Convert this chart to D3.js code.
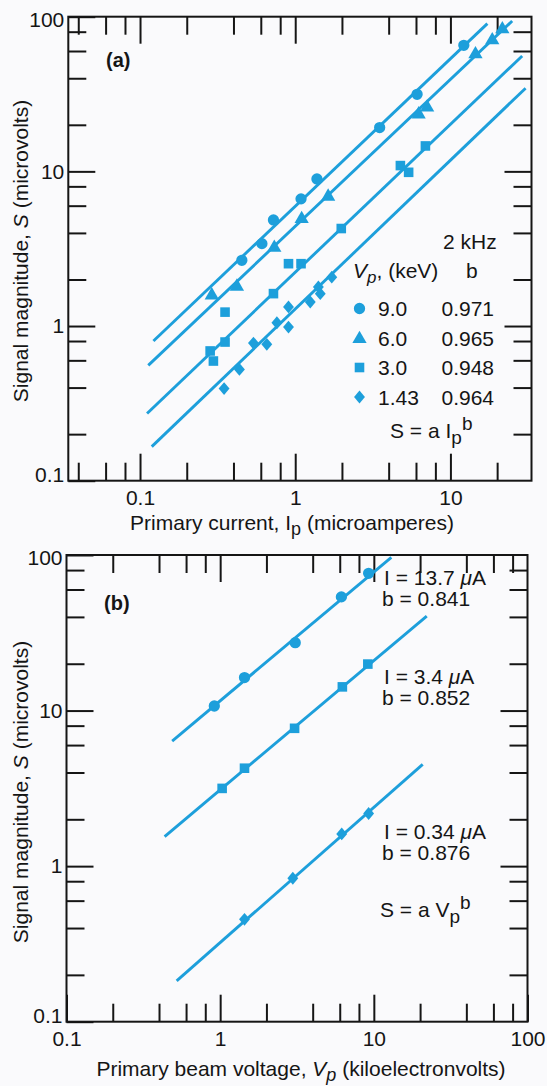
<!DOCTYPE html>
<html>
<head>
<meta charset="utf-8">
<script src="https://cdn.jsdelivr.net/npm/d3@7"></script>
<style>
	body { margin: 0; background: #fafafc; }
	svg { display: block; }
	text { font-family: "Liberation Sans", Arial, sans-serif; fill: #151515; }
</style>
</head>
<body>
<svg id="chart" width="547" height="1086"></svg>
<script>
// ---------- panel (a): S vs primary current, four beam voltages ----------
var legendVp = ["9.0", "6.0", "3.0", "1.43"];
var legendB = ["0.971", "0.965", "0.948", "0.964"];

var ipCircle = [0.453, 0.610, 0.724, 1.09, 1.38, 3.50, 6.10, 12.2];
var sCircle = [2.66, 3.41, 4.85, 6.64, 8.93, 19.2, 31.5, 65.3];
var ipTriangle = [0.290, 0.421, 0.733, 1.10, 1.63, 6.24, 7.08, 14.5, 18.6, 21.6];
var sTriangle = [1.58, 1.80, 3.21, 4.93, 6.87, 23.4, 25.9, 57.2, 70.5, 83.0];
var ipSquare = [0.297, 0.283, 0.353, 0.353, 0.724, 0.905, 1.09, 1.98, 4.76, 5.38, 6.90];
var sSquare = [0.594, 0.690, 0.788, 1.23, 1.62, 2.53, 2.53, 4.27, 10.9, 9.86, 14.6];
var ipDiamond = [0.348, 0.437, 0.538, 0.656, 0.762, 0.905, 0.905, 1.25, 1.41, 1.45, 1.72];
var sDiamond = [0.394, 0.524, 0.776, 0.762, 1.05, 0.985, 1.33, 1.43, 1.79, 1.62, 2.07];

// fitted lines, [x0, y0, x1, y1]
var fitCircleA = [0.122, 0.80, 17.3, 90.2];
var fitTriangleA = [0.113, 0.557, 25.0, 93.8];
var fitSquareA = [0.111, 0.272, 29.0, 55.7];
var fitDiamondA = [0.119, 0.166, 30.5, 34.5];

// ---------- panel (b): S vs beam voltage, three currents ----------
var currentLabels = ["I = 13.7 ", "I = 3.4 ", "I = 0.34 "];
var bLabels = ["b = 0.841", "b = 0.852", "b = 0.876"];

var vpCircle = [0.916, 1.44, 3.08, 6.15, 9.25];
var sCircleB = [10.7, 16.3, 27.3, 53.8, 76.2];
var vpSquare = [1.03, 1.44, 3.05, 6.24, 9.14];
var sSquareB = [3.16, 4.26, 7.69, 14.2, 19.9];
var vpDiamond = [1.44, 2.97, 6.18, 9.25];
var sDiamondB = [0.455, 0.836, 1.61, 2.18];

var fitCircleB = [0.487, 6.37, 13.0, 96.6];
var fitSquareB = [0.435, 1.55, 22.1, 40.5];
var fitDiamondB = [0.521, 0.183, 20.8, 4.51];

// ---------- ticks ----------
var yMajor = [0.1, 1, 10, 100];
var yMajorLabels = ["0.1", "1", "10", "100"];
var yMinor = [0.2, 0.4, 0.6, 0.8, 2, 4, 6, 8, 20, 40, 60, 80];
var xMajorA = [0.1, 1, 10];
var xMajorLabelsA = ["0.1", "1", "10"];
var xMinorA = [0.04, 0.06, 0.08, 0.2, 0.4, 0.6, 0.8, 2, 4, 6, 8, 20];
var xMajorB = [0.1, 1, 10, 100];
var xMajorLabelsB = ["0.1", "1", "10", "100"];
var xMinorB = [0.2, 0.4, 0.6, 0.8, 2, 4, 6, 8, 20, 40, 60, 80];

var blue = "#1d9fdb";
var svg = d3.select("#chart");

svg.append("rect").attr("width", 547).attr("height", 1086).attr("fill", "#fafafc");

function zip(xs, ys) {
	return xs.map(function (v, i) { return [v, ys[i]]; });
}

function drawAxes(x, y, xMajor, xMajorLabels, xMinor) {
	var x0 = x.range()[0], x1 = x.range()[1],
		y0 = y.range()[0], y1 = y.range()[1];
	var g = svg.append("g");

	var sides = [
		{ axis: d3.axisBottom(x), t: "translate(0," + y0 + ")", minor: xMinor, major: xMajor, labels: xMajorLabels, pad: 9 },
		{ axis: d3.axisTop(x), t: "translate(0," + y1 + ")", minor: xMinor, major: xMajor, labels: null, pad: 5 },
		{ axis: d3.axisLeft(y), t: "translate(" + x0 + ",0)", minor: yMinor, major: yMajor, labels: yMajorLabels, pad: 4, left: true },
		{ axis: d3.axisRight(y), t: "translate(" + x1 + ",0)", minor: yMinor, major: yMajor, labels: null, pad: 5 }
	];

	sides.forEach(function (s) {
		g.append("g")
			.attr("transform", s.t)
			.call(s.axis.tickValues(s.minor).tickSizeInner(-18).tickSizeOuter(0).tickFormat(""));
		var labels = s.labels;
		var sc = s.axis.scale();
		var lo = d3.min(sc.range()), hi = d3.max(sc.range());
		var major = s.major.filter(function (v) {
			return labels || (sc(v) > lo + 3 && sc(v) < hi - 3);
		});
		var ax = g.append("g")
			.attr("transform", s.t)
			.call(s.axis.tickValues(major).tickSizeInner(-27).tickSizeOuter(0).tickPadding(s.pad)
				.tickFormat(function (d) { return labels ? labels[s.major.indexOf(d)] : ""; }));
		if (s.left) {
			// corner labels on the value axis sit a little inside the corners
			ax.selectAll(".tick text")
				.attr("dy", function (d) { return d === 0.1 ? "0.05em" : d === 100 ? "0.45em" : "0.32em"; });
		}
	});

	g.selectAll(".domain").remove();
	g.selectAll(".tick line").attr("stroke", "#151515").attr("stroke-width", 2);
	g.selectAll(".tick text").attr("font-size", 21).attr("fill", "#151515")
		.attr("font-family", "Liberation Sans, Arial, sans-serif");

	// frame
	g.append("rect")
		.attr("x", x0).attr("y", y1)
		.attr("width", x1 - x0).attr("height", y0 - y1)
		.attr("fill", "none").attr("stroke", "#151515").attr("stroke-width", 2);
}

function drawFit(x, y, f) {
	svg.append("line")
		.attr("x1", x(f[0])).attr("y1", y(f[1]))
		.attr("x2", x(f[2])).attr("y2", y(f[3]))
		.attr("stroke", blue).attr("stroke-width", 2.9);
}

var symCircle = d3.symbol().type(d3.symbolCircle).size(100);
var symTriangle = d3.symbol().type(d3.symbolTriangle).size(88);
var symSquare = d3.symbol().type(d3.symbolSquare).size(92);
var symDiamond = d3.symbol().type(d3.symbolSquare).size(82);

function markTransform(kind, px, py) {
	var t = "translate(" + px + "," + py + ")";
	if (kind === "diamond") t += " scale(0.85,1) rotate(45)";
	return t;
}

function drawPoints(x, y, pts, sym, kind) {
	svg.append("g").selectAll("path")
		.data(pts)
		.enter().append("path")
		.attr("d", sym)
		.attr("transform", function (d) { return markTransform(kind, x(d[0]), y(d[1])); })
		.attr("fill", blue);
}

// ================= panel (a) =================
var xA = d3.scaleLog().domain([0.0345, 33.3]).range([68.3, 531.5]);
var yA = d3.scaleLog().domain([0.1, 100]).range([480.7, 16.7]);

drawAxes(xA, yA, xMajorA, xMajorLabelsA, xMinorA);

drawFit(xA, yA, fitCircleA);
drawFit(xA, yA, fitTriangleA);
drawFit(xA, yA, fitSquareA);
drawFit(xA, yA, fitDiamondA);

drawPoints(xA, yA, zip(ipCircle, sCircle), symCircle, "circle");
drawPoints(xA, yA, zip(ipTriangle, sTriangle), symTriangle, "triangle");
drawPoints(xA, yA, zip(ipSquare, sSquare), symSquare, "square");
drawPoints(xA, yA, zip(ipDiamond, sDiamond), symDiamond, "diamond");

svg.append("text").attr("x", 106).attr("y", 67).attr("font-size", 20).attr("font-weight", "bold").text("(a)");

// legend
svg.append("text").attr("x", 443).attr("y", 249).attr("font-size", 21).text("2 kHz");
var head = svg.append("text").attr("x", 353).attr("y", 278).attr("font-size", 21);
head.append("tspan").attr("font-style", "italic").text("V");
head.append("tspan").attr("font-style", "italic").attr("font-size", 17).attr("dy", 5).text("p");
head.append("tspan").attr("dy", -5).text(", (keV)");
svg.append("text").attr("x", 466).attr("y", 278).attr("font-size", 21).text("b");

var legSyms = [symCircle, symTriangle, symSquare, symDiamond];
var legKinds = ["circle", "triangle", "square", "diamond"];
legendVp.forEach(function (v, i) {
	var by = 316 + i * 29.5;
	svg.append("path").attr("d", legSyms[i])
		.attr("transform", markTransform(legKinds[i], 359.5, by - 7.5 + (legKinds[i] === "triangle" ? 1 : 0)))
		.attr("fill", blue);
	svg.append("text").attr("x", 378).attr("y", by).attr("font-size", 21).text(v);
	svg.append("text").attr("x", 441.5).attr("y", by).attr("font-size", 21).text(legendB[i]);
});

var eqA = svg.append("text").attr("x", 390).attr("y", 438).attr("font-size", 21);
eqA.append("tspan").text("S = a I");
eqA.append("tspan").attr("font-size", 19).attr("dy", 6).text("p");
eqA.append("tspan").attr("font-size", 19).attr("dy", -14).text("b");

// axis titles
var tA = svg.append("text").attr("x", 292).attr("y", 530).attr("font-size", 21).attr("text-anchor", "middle");
tA.append("tspan").text("Primary current, I");
tA.append("tspan").attr("font-size", 18).attr("dy", 5).text("p");
tA.append("tspan").attr("dy", -5).text(" (microamperes)");

function yTitle(cy) {
	var t = svg.append("text")
		.attr("transform", "translate(28," + cy + ") rotate(-90)")
		.attr("text-anchor", "middle").attr("font-size", 21);
	t.append("tspan").text("Signal magnitude, ");
	t.append("tspan").attr("font-style", "italic").text("S");
	t.append("tspan").text(" (microvolts)");
}
yTitle(251);

// ================= panel (b) =================
var xB = d3.scaleLog().domain([0.1, 100]).range([66.5, 527.5]);
var yB = d3.scaleLog().domain([0.1, 100]).range([1021.7, 555]);

drawAxes(xB, yB, xMajorB, xMajorLabelsB, xMinorB);

drawFit(xB, yB, fitCircleB);
drawFit(xB, yB, fitSquareB);
drawFit(xB, yB, fitDiamondB);

drawPoints(xB, yB, zip(vpCircle, sCircleB), symCircle, "circle");
drawPoints(xB, yB, zip(vpSquare, sSquareB), symSquare, "square");
drawPoints(xB, yB, zip(vpDiamond, sDiamondB), symDiamond, "diamond");

svg.append("text").attr("x", 104).attr("y", 610).attr("font-size", 20).attr("font-weight", "bold").text("(b)");

var labelY = [585, 684, 839];
currentLabels.forEach(function (c, i) {
	var t = svg.append("text").attr("x", 384).attr("y", labelY[i]).attr("font-size", 21);
	t.append("tspan").text(c);
	t.append("tspan").attr("font-style", "italic").text("\u03bc");
	t.append("tspan").text("A");
	svg.append("text").attr("x", 382).attr("y", labelY[i] + 21).attr("font-size", 21).text(bLabels[i]);
});

var eqB = svg.append("text").attr("x", 380).attr("y", 917).attr("font-size", 21);
eqB.append("tspan").text("S = a V");
eqB.append("tspan").attr("font-size", 19).attr("dy", 6).text("p");
eqB.append("tspan").attr("font-size", 19).attr("dy", -14).text("b");

var tB = svg.append("text").attr("x", 301).attr("y", 1076).attr("font-size", 21).attr("text-anchor", "middle");
tB.append("tspan").text("Primary beam voltage, ");
tB.append("tspan").attr("font-style", "italic").text("V");
tB.append("tspan").attr("font-style", "italic").attr("font-size", 18).attr("dy", 5).text("p");
tB.append("tspan").attr("dy", -5).text(" (kiloelectronvolts)");

yTitle(792);
</script>
</body>
</html>
